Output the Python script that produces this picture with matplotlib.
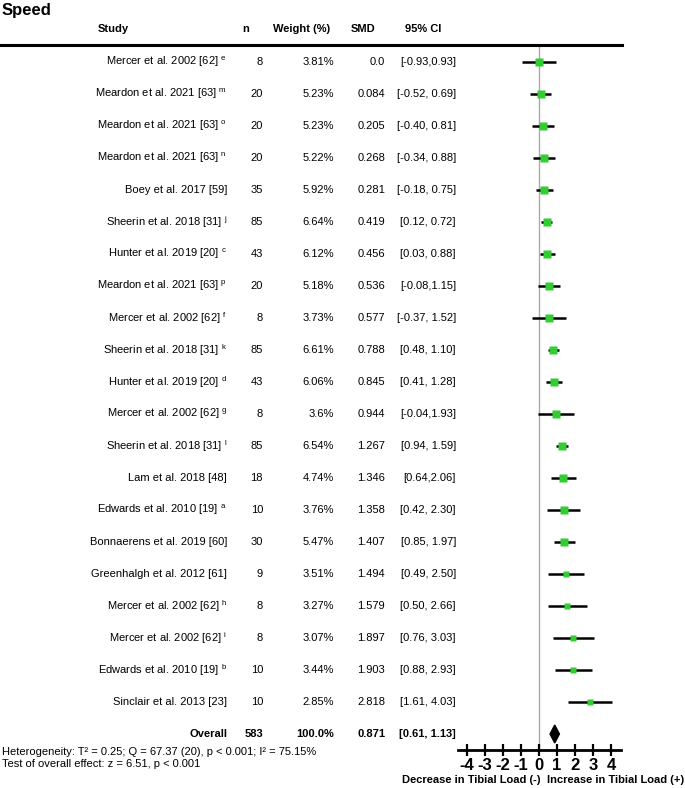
import numpy as np
import matplotlib
matplotlib.use("Agg")
import matplotlib.pyplot as plt
import matplotlib.transforms as mtransforms
from matplotlib.lines import Line2D

plt.rcParams['font.family'] = ['Liberation Sans', 'DejaVu Sans']
plt.rcParams['axes.unicode_minus'] = False

# ---- data ----
studies = ["Mercer et al. 2002 [62]", "Meardon et al. 2021 [63]", "Meardon et al. 2021 [63]",
           "Meardon et al. 2021 [63]", "Boey et al. 2017 [59]", "Sheerin et al. 2018 [31]",
           "Hunter et al. 2019 [20]", "Meardon et al. 2021 [63]", "Mercer et al. 2002 [62]",
           "Sheerin et al. 2018 [31]", "Hunter et al. 2019 [20]", "Mercer et al. 2002 [62]",
           "Sheerin et al. 2018 [31]", "Lam et al. 2018 [48]", "Edwards et al. 2010 [19]",
           "Bonnaerens et al. 2019 [60]", "Greenhalgh et al. 2012 [61]", "Mercer et al. 2002 [62]",
           "Mercer et al. 2002 [62]", "Edwards et al. 2010 [19]", "Sinclair et al. 2013 [23]"]
notes = ["e", "m", "o", "n", "", "j", "c", "p", "f", "k", "d", "g", "l", "", "a", "", "", "h", "i", "b", ""]
n_vals = [8, 20, 20, 20, 35, 85, 43, 20, 8, 85, 43, 8, 85, 18, 10, 30, 9, 8, 8, 10, 10]
weights = [3.81, 5.23, 5.23, 5.22, 5.92, 6.64, 6.12, 5.18, 3.73, 6.61, 6.06, 3.6, 6.54,
           4.74, 3.76, 5.47, 3.51, 3.27, 3.07, 3.44, 2.85]
smd = [0.0, 0.084, 0.205, 0.268, 0.281, 0.419, 0.456, 0.536, 0.577, 0.788, 0.845, 0.944,
       1.267, 1.346, 1.358, 1.407, 1.494, 1.579, 1.897, 1.903, 2.818]
ci_low = [-0.93, -0.52, -0.40, -0.34, -0.18, 0.12, 0.03, -0.08, -0.37, 0.48, 0.41, -0.04,
          0.94, 0.64, 0.42, 0.85, 0.49, 0.50, 0.76, 0.88, 1.61]
ci_high = [0.93, 0.69, 0.81, 0.88, 0.75, 0.72, 0.88, 1.15, 1.52, 1.10, 1.28, 1.93,
           1.59, 2.06, 2.30, 1.97, 2.50, 2.66, 3.03, 2.93, 4.03]
ci_text = ["[-0.93,0.93]", "[-0.52, 0.69]", "[-0.40, 0.81]", "[-0.34, 0.88]", "[-0.18, 0.75]",
           "[0.12, 0.72]", "[0.03, 0.88]", "[-0.08,1.15]", "[-0.37, 1.52]", "[0.48, 1.10]",
           "[0.41, 1.28]", "[-0.04,1.93]", "[0.94, 1.59]", "[0.64,2.06]", "[0.42, 2.30]",
           "[0.85, 1.97]", "[0.49, 2.50]", "[0.50, 2.66]", "[0.76, 3.03]", "[0.88, 2.93]",
           "[1.61, 4.03]"]
weight_text = ["3.81%", "5.23%", "5.23%", "5.22%", "5.92%", "6.64%", "6.12%", "5.18%", "3.73%",
               "6.61%", "6.06%", "3.6%", "6.54%", "4.74%", "3.76%", "5.47%", "3.51%", "3.27%",
               "3.07%", "3.44%", "2.85%"]
smd_text = ["0.0", "0.084", "0.205", "0.268", "0.281", "0.419", "0.456", "0.536", "0.577",
            "0.788", "0.845", "0.944", "1.267", "1.346", "1.358", "1.407", "1.494", "1.579",
            "1.897", "1.903", "2.818"]
overall_n = 583
overall_smd = 0.871
overall_lo, overall_hi = 0.61, 1.13
ticks = [-4, -3, -2, -1, 0, 1, 2, 3, 4]

W, H = 685, 788
fig = plt.figure(figsize=(W / 100, H / 100), dpi=100)

def fx(px):
    return px / W

def fy(py):
    return 1 - py / H

# forest axes: x from px 458 to 621, y from header line (45) to axis (750)
ax = fig.add_axes([fx(458), fy(750), fx(621) - fx(458), (750 - 45) / H])
ax.set_xlim(-4.5, 4.55)
nrows = len(studies)
ax.set_ylim(nrows + 0.5, -0.53)
for s in ['top', 'left', 'right']:
    ax.spines[s].set_visible(False)
ax.spines['bottom'].set_linewidth(2)
ax.set_yticks([])
ax.set_xticks(ticks)
ax.set_xticklabels([str(t) for t in ticks], fontsize=12, fontweight='bold')
ax.tick_params(axis='x', direction='inout', length=9, width=1.6, pad=1.5)
ax.patch.set_visible(False)

ax.axvline(0, color='#aaaaaa', lw=1, zorder=0)

rows = np.arange(nrows)
sizes = 1.5 * np.sqrt(np.array(weights)) + 2.2
for i in rows:
    ax.plot([ci_low[i], ci_high[i]], [i, i], color='black', lw=1.8, solid_capstyle='butt', zorder=2)
    ax.plot(smd[i], i, marker='s', color='#33cc33', markersize=sizes[i], mec='none', zorder=3)

yo = nrows
dh = 0.28
ax.fill([overall_lo, overall_smd, overall_hi, overall_smd],
        [yo, yo - dh, yo, yo + dh], color='black', zorder=3)

# text columns
tr = mtransforms.blended_transform_factory(fig.transFigure, ax.transData)
fs = 8
for i in rows:
    label = studies[i]
    if notes[i]:
        label = label + r" $^{\mathregular{%s}}$" % notes[i]
    ax.text(fx(227), i, label, transform=tr, ha='right', va='center', fontsize=fs)
    ax.text(fx(263), i, str(n_vals[i]), transform=tr, ha='right', va='center', fontsize=fs)
    ax.text(fx(334), i, weight_text[i], transform=tr, ha='right', va='center', fontsize=fs)
    ax.text(fx(385), i, smd_text[i], transform=tr, ha='right', va='center', fontsize=fs)
    ax.text(fx(456), i, ci_text[i], transform=tr, ha='right', va='center', fontsize=fs)

ax.text(fx(227), yo, "Overall", transform=tr, ha='right', va='center', fontsize=fs, fontweight='bold')
ax.text(fx(263), yo, str(overall_n), transform=tr, ha='right', va='center', fontsize=fs, fontweight='bold')
ax.text(fx(334), yo, "100.0%", transform=tr, ha='right', va='center', fontsize=fs, fontweight='bold')
ax.text(fx(385), yo, "%.3f" % overall_smd, transform=tr, ha='right', va='center', fontsize=fs, fontweight='bold')
ax.text(fx(456), yo, "[%.2f, %.2f]" % (overall_lo, overall_hi), transform=tr, ha='right', va='center',
        fontsize=fs, fontweight='bold')

# headers
headers = [("Study", 113), ("n", 246), ("Weight (%)", 302), ("SMD", 363), ("95% CI", 423)]
for txt, px in headers:
    fig.text(fx(px), fy(29), txt, ha='center', va='center', fontsize=fs, fontweight='bold')
fig.add_artist(Line2D([0, fx(622)], [fy(45), fy(45)], color='black', lw=2.2))

fig.text(fx(2), fy(11), "Speed", ha='left', va='center', fontsize=12, fontweight='bold')

fig.text(fx(2), fy(752), "Heterogeneity: T² = 0.25; Q = 67.37 (20), p < 0.001; I² = 75.15%",
         ha='left', va='center', fontsize=fs)
fig.text(fx(2), fy(764), "Test of overall effect: z = 6.51, p < 0.001", ha='left', va='center', fontsize=fs)

fig.text(fx(540), fy(780), "Decrease in Tibial Load (-)", ha='right', va='center', fontsize=fs, fontweight='bold')
fig.text(fx(684), fy(780), "Increase in Tibial Load (+)", ha='right', va='center', fontsize=fs, fontweight='bold')

fig.savefig("out.png", dpi=100)
